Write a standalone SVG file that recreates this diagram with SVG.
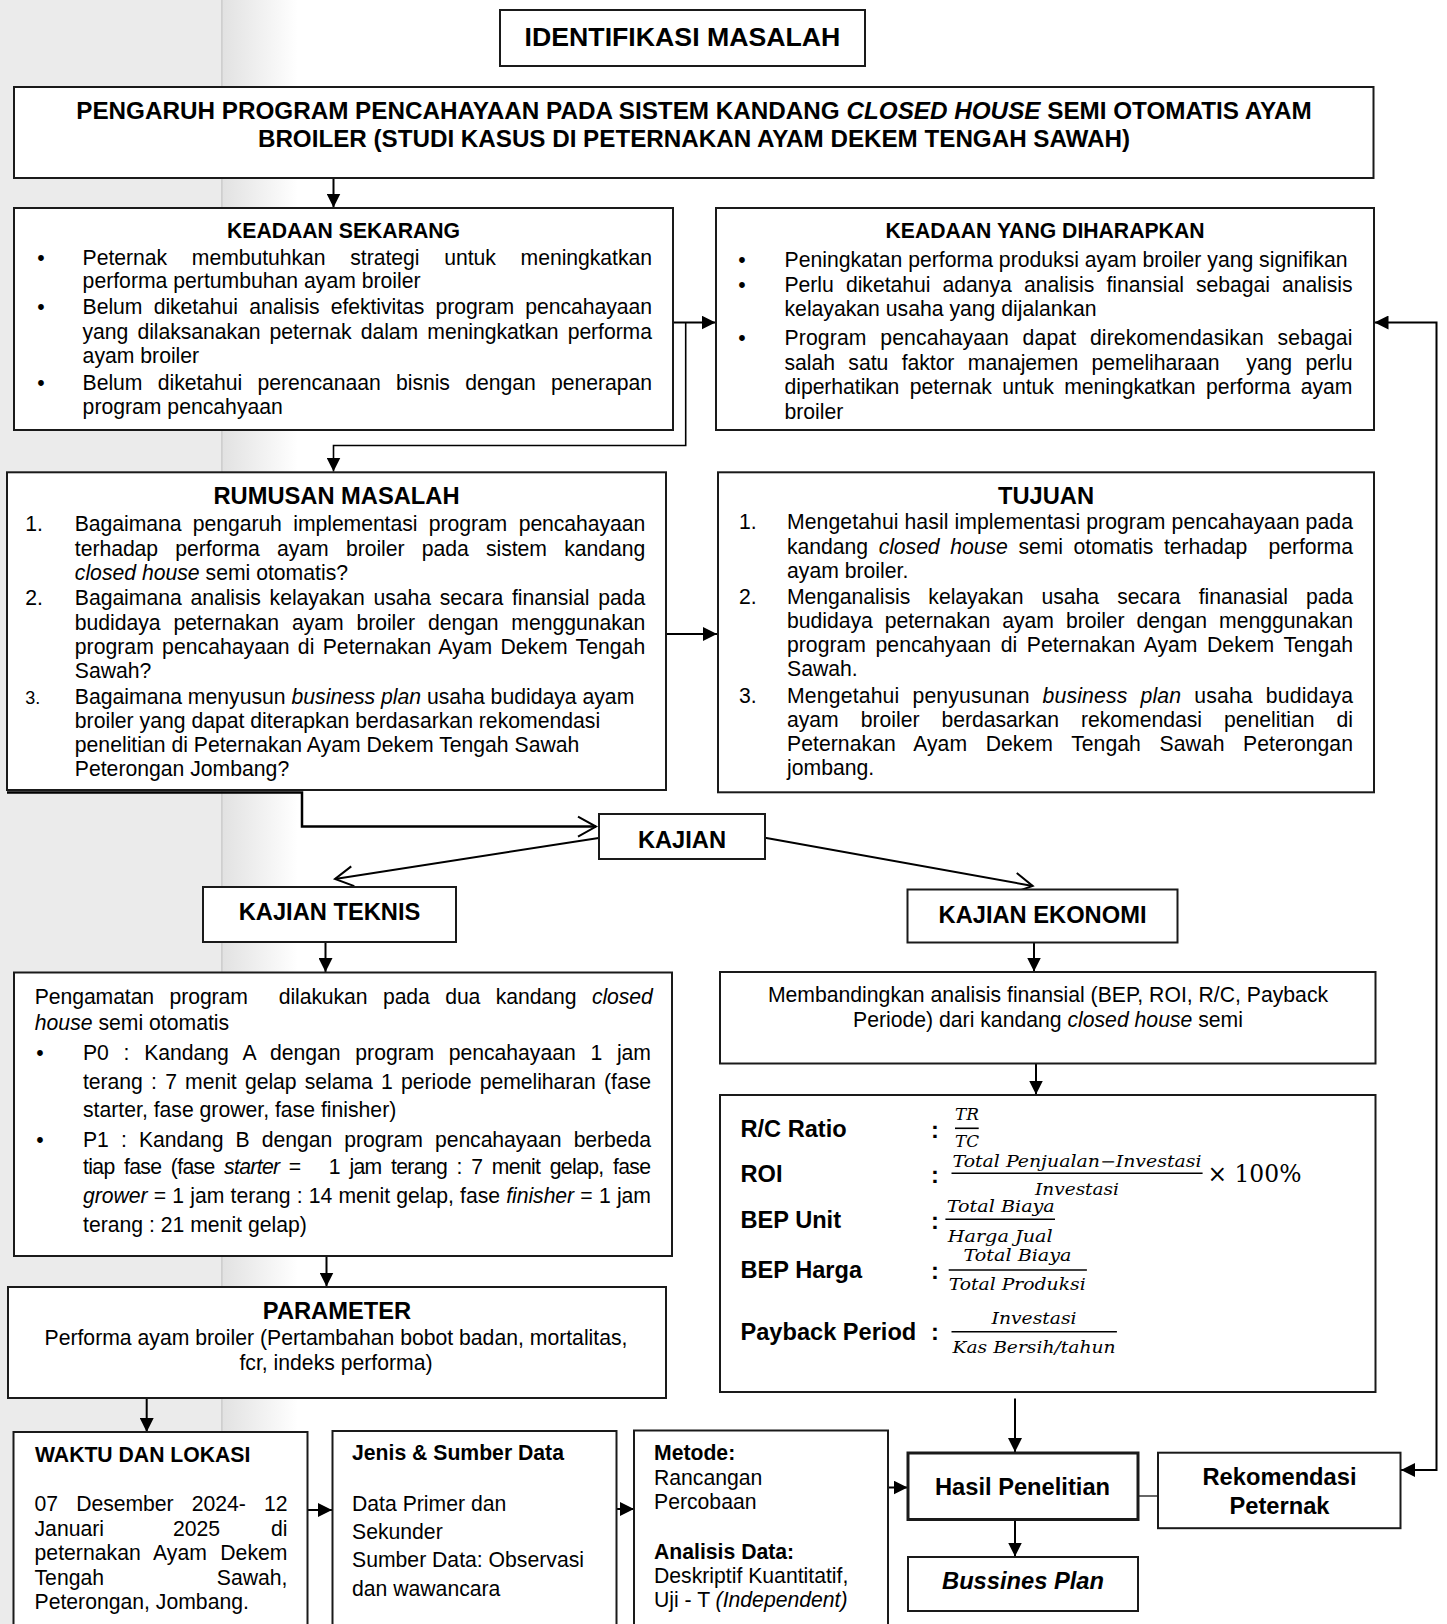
<svg xmlns="http://www.w3.org/2000/svg" width="1447" height="1624" viewBox="0 0 1447 1624">
<style>
text{font-family:"Liberation Sans",Arial,sans-serif;font-size:21.2px;fill:#000}
.box{fill:#fff;stroke:#1a1a1a;stroke-width:2}
.hb{font-weight:bold;text-anchor:middle}
.lg{font-size:23.7px}
.b{font-weight:bold}
.c{text-anchor:middle}
.e{text-anchor:end}
.i{font-style:italic}
.m{font-family:"DejaVu Serif","Liberation Serif",serif;font-style:italic;font-size:16px}
.ln{fill:none;stroke:#000;stroke-width:2}
.bar{stroke:#000;stroke-width:1.6}
</style>
<defs>
<marker id="ah" markerUnits="userSpaceOnUse" markerWidth="14" markerHeight="14" viewBox="0 0 14 14" refX="14" refY="7" orient="auto-start-reverse"><path d="M0,0 L14,7 L0,14 z" fill="#000"/></marker>
<marker id="oh" markerUnits="userSpaceOnUse" markerWidth="24" markerHeight="24" viewBox="-1 -1 24 24" refX="19" refY="11" orient="auto"><path d="M1,1 L19,11 L1,21" fill="none" stroke="#000" stroke-width="2"/></marker>
<linearGradient id="fade" x1="0" y1="0" x2="1" y2="0"><stop offset="0" stop-color="#e2e2e2"/><stop offset="1" stop-color="#ffffff"/></linearGradient>
</defs>
<g id="background">
<rect x="0" y="0" width="1447" height="1624" fill="#fff"/>
<rect x="0" y="0" width="222" height="1624" fill="#ebebeb"/>
<rect x="223" y="0" width="75" height="1624" fill="url(#fade)"/>
<line x1="222" y1="0" x2="222" y2="1624" stroke="#c6c6c6" stroke-width="1.5"/>
</g>
<g id="connectors">
<path class="ln" d="M333.5,178 V207.5" marker-end="url(#ah)"/>
<path class="ln" d="M673,322.5 H715.5" marker-end="url(#ah)"/>
<path class="ln" style="stroke-width:1.6" d="M685.7,322.5 V445.5 H333.5 V471.5" marker-end="url(#ah)"/>
<path class="ln" d="M666,634 H717" marker-end="url(#ah)"/>
<path class="ln" style="stroke-width:2.5" d="M7,792.5 H302 V826.6 H596" marker-end="url(#oh)"/>
<path class="ln" d="M598.7,838 L335,879" marker-end="url(#oh)"/>
<path class="ln" d="M765,837.7 L1032.7,886" marker-end="url(#oh)"/>
<path class="ln" d="M325.5,942 V972" marker-end="url(#ah)"/>
<path class="ln" d="M1034,942.5 V971.5" marker-end="url(#ah)"/>
<path class="ln" d="M326.5,1256 V1286.5" marker-end="url(#ah)"/>
<path class="ln" d="M1036,1063.5 V1094.5" marker-end="url(#ah)"/>
<path class="ln" d="M146.7,1398 V1432" marker-end="url(#ah)"/>
<path class="ln" d="M308,1510 H332" marker-end="url(#ah)"/>
<path class="ln" d="M617,1509 H634" marker-end="url(#ah)"/>
<path class="ln" d="M889,1487.5 H907.5" marker-end="url(#ah)"/>
<path class="ln" d="M1015,1398.5 V1452" marker-end="url(#ah)"/>
<path class="ln" d="M1015,1519.5 V1556.5" marker-end="url(#ah)"/>
<path class="ln" style="stroke-width:1.2" d="M1138,1496 H1158"/>
<path class="ln" d="M1401,1470 H1436.5 V322.5 H1374.5" marker-start="url(#ah)" marker-end="url(#ah)"/>
</g>
<g id="identifikasi">
<rect class="box" x="500" y="10" width="365" height="56"/>
<text class="hb" x="682.5" y="46" style="font-size:26.7px">IDENTIFIKASI MASALAH</text>
</g>
<g id="judul">
<rect class="box" x="14" y="87" width="1359.5" height="91"/>
<text class="hb" x="694" y="118.5" style="font-size:24.25px">PENGARUH PROGRAM PENCAHAYAAN PADA SISTEM KANDANG <tspan class="i">CLOSED HOUSE</tspan> SEMI OTOMATIS AYAM</text>
<text class="hb" x="694" y="147" style="font-size:24.2px">BROILER (STUDI KASUS DI PETERNAKAN AYAM DEKEM TENGAH SAWAH)</text>
</g>
<g id="keadaan-sekarang">
<rect class="box" x="14" y="208" width="659" height="222"/>
<text class="hb" x="343.5" y="237.5">KEADAAN SEKARANG</text>
<text class="c" x="41" y="264.5">•</text>
<text class="c" x="41" y="314">•</text>
<text class="c" x="41" y="389.5">•</text>
<text x="82.6" y="264.5" textLength="569.4" lengthAdjust="spacing" style="word-spacing:18.9px">Peternak membutuhkan strategi untuk meningkatkan</text>
<text x="82.6" y="288">performa pertumbuhan ayam broiler</text>
<text x="82.6" y="314" textLength="569.4" lengthAdjust="spacing" style="word-spacing:5.5px">Belum diketahui analisis efektivitas program pencahayaan</text>
<text x="82.6" y="339" textLength="569.4" lengthAdjust="spacing" style="word-spacing:3.4px">yang dilaksanakan peternak dalam meningkatkan performa</text>
<text x="82.6" y="363">ayam broiler</text>
<text x="82.6" y="389.5" textLength="569.4" lengthAdjust="spacing" style="word-spacing:9.5px">Belum diketahui perencanaan bisnis dengan penerapan</text>
<text x="82.6" y="414">program pencahyaan</text>
</g>
<g id="keadaan-diharapkan">
<rect class="box" x="716" y="208" width="658" height="222"/>
<text class="hb" x="1045" y="237.5">KEADAAN YANG DIHARAPKAN</text>
<text class="c" x="742" y="266.5">•</text>
<text class="c" x="742" y="292">•</text>
<text class="c" x="742" y="345">•</text>
<text x="784.5" y="266.5">Peningkatan performa produksi ayam broiler yang signifikan</text>
<text x="784.5" y="292" textLength="568" lengthAdjust="spacing" style="word-spacing:6.3px">Perlu diketahui adanya analisis finansial sebagai analisis</text>
<text x="784.5" y="316">kelayakan usaha yang dijalankan</text>
<text x="784.5" y="345" textLength="568" lengthAdjust="spacing" style="word-spacing:7.7px">Program pencahayaan dapat direkomendasikan sebagai</text>
<text x="784.5" y="370" textLength="568" lengthAdjust="spacing" style="word-spacing:7.6px" xml:space="preserve">salah satu faktor manajemen pemeliharaan  yang perlu</text>
<text x="784.5" y="394" textLength="568" lengthAdjust="spacing" style="word-spacing:4.6px">diperhatikan peternak untuk meningkatkan performa ayam</text>
<text x="784.5" y="418.5">broiler</text>
</g>
<g id="rumusan-masalah">
<rect class="box" x="7" y="472.3" width="659" height="317.7"/>
<text class="hb lg" x="336.5" y="504">RUMUSAN MASALAH</text>
<text x="25.3" y="531.3">1.</text>
<text x="25.3" y="605.1">2.</text>
<text x="25.3" y="704.1" style="font-size:18px">3.</text>
<text x="74.8" y="531.3" textLength="570.4" lengthAdjust="spacing" style="word-spacing:5.7px">Bagaimana pengaruh implementasi program pencahayaan</text>
<text x="74.8" y="556.2" textLength="570.4" lengthAdjust="spacing" style="word-spacing:11.4px">terhadap performa ayam broiler pada sistem kandang</text>
<text x="74.8" y="580.3"><tspan class="i">closed house</tspan> semi otomatis?</text>
<text x="74.8" y="605.1" textLength="570.4" lengthAdjust="spacing" style="word-spacing:3px">Bagaimana analisis kelayakan usaha secara finansial pada</text>
<text x="74.8" y="629.7" textLength="570.4" lengthAdjust="spacing" style="word-spacing:7.1px">budidaya peternakan ayam broiler dengan menggunakan</text>
<text x="74.8" y="653.7" textLength="570.4" lengthAdjust="spacing" style="word-spacing:2.4px">program pencahayaan di Peternakan Ayam Dekem Tengah</text>
<text x="74.8" y="678.2">Sawah?</text>
<text x="74.8" y="704.1">Bagaimana menyusun <tspan class="i">business plan</tspan> usaha budidaya ayam</text>
<text x="74.8" y="728.2">broiler yang dapat diterapkan berdasarkan rekomendasi</text>
<text x="74.8" y="752.3">penelitian di Peternakan Ayam Dekem Tengah Sawah</text>
<text x="74.8" y="776.2">Peterongan Jombang?</text>
</g>
<g id="tujuan">
<rect class="box" x="718" y="472.3" width="656" height="320"/>
<text class="hb lg" x="1046" y="504">TUJUAN</text>
<text x="739" y="529.3">1.</text>
<text x="739" y="603.6">2.</text>
<text x="739" y="702.6">3.</text>
<text x="787" y="529.3" textLength="566" lengthAdjust="spacing">Mengetahui hasil implementasi program pencahayaan pada</text>
<text x="787" y="554.2" textLength="566" lengthAdjust="spacing" style="word-spacing:4.8px" xml:space="preserve">kandang <tspan class="i">closed house</tspan> semi otomatis terhadap  performa</text>
<text x="787" y="578.3">ayam broiler.</text>
<text x="787" y="603.6" textLength="566" lengthAdjust="spacing" style="word-spacing:12.3px">Menganalisis kelayakan usaha secara finanasial pada</text>
<text x="787" y="627.7" textLength="566" lengthAdjust="spacing" style="word-spacing:6.2px">budidaya peternakan ayam broiler dengan menggunakan</text>
<text x="787" y="651.7" textLength="566" lengthAdjust="spacing" style="word-spacing:3.7px">program pencahyaan di Peternakan Ayam Dekem Tengah</text>
<text x="787" y="676.2">Sawah.</text>
<text x="787" y="702.6" textLength="566" lengthAdjust="spacing" style="word-spacing:6.9px">Mengetahui penyusunan <tspan class="i">business plan</tspan> usaha budidaya</text>
<text x="787" y="726.8" textLength="566" lengthAdjust="spacing" style="word-spacing:16.3px">ayam broiler berdasarkan rekomendasi penelitian di</text>
<text x="787" y="750.8" textLength="566" lengthAdjust="spacing" style="word-spacing:12.6px">Peternakan Ayam Dekem Tengah Sawah Peterongan</text>
<text x="787" y="774.5">jombang.</text>
</g>
<g id="kajian">
<rect class="box" x="599" y="814" width="166" height="45"/>
<text class="hb lg" x="682" y="847.5">KAJIAN</text>
</g>
<g id="kajian-teknis">
<rect class="box" x="203" y="887" width="253" height="55"/>
<text class="hb lg" x="329.5" y="920">KAJIAN TEKNIS</text>
</g>
<g id="kajian-ekonomi">
<rect class="box" x="907.5" y="889.5" width="270" height="53"/>
<text class="hb lg" x="1042.5" y="923">KAJIAN EKONOMI</text>
</g>
<g id="pengamatan">
<rect class="box" x="14" y="972.5" width="658" height="283.5"/>
<text x="34.8" y="1003.5" textLength="617.9" lengthAdjust="spacing" style="word-spacing:9.7px" xml:space="preserve">Pengamatan program  dilakukan pada dua kandang <tspan class="i">closed</tspan></text>
<text x="34.8" y="1029.7"><tspan class="i">house</tspan> semi otomatis</text>
<text class="c" x="40" y="1060.3">•</text>
<text class="c" x="40" y="1146.5">•</text>
<text x="83" y="1060.3" textLength="568" lengthAdjust="spacing" style="word-spacing:8.9px">P0 : Kandang A dengan program pencahayaan 1 jam</text>
<text x="83" y="1088.8" textLength="568" lengthAdjust="spacing" style="word-spacing:2.4px">terang : 7 menit gelap selama 1 periode pemeliharan (fase</text>
<text x="83" y="1116.8">starter, fase grower, fase finisher)</text>
<text x="83" y="1146.5" textLength="568" lengthAdjust="spacing" style="word-spacing:6.4px">P1 : Kandang B dengan program pencahayaan berbeda</text>
<text x="83" y="1173.8" textLength="568" lengthAdjust="spacing" style="word-spacing:4.2px" xml:space="preserve">tiap fase (fase <tspan class="i">starter</tspan> =   1 jam terang : 7 menit gelap, fase</text>
<text x="83" y="1202.7" textLength="568" lengthAdjust="spacing" style="word-spacing:0.4px"><tspan class="i">grower</tspan> = 1 jam terang : 14 menit gelap, fase <tspan class="i">finisher</tspan> = 1 jam</text>
<text x="83" y="1231.5">terang : 21 menit gelap)</text>
</g>
<g id="parameter">
<rect class="box" x="8" y="1287" width="658" height="111"/>
<text class="hb lg" x="337" y="1318.5">PARAMETER</text>
<text class="c" x="336" y="1345">Performa ayam broiler (Pertambahan bobot badan, mortalitas,</text>
<text class="c" x="336" y="1370">fcr, indeks performa)</text>
</g>
<g id="membandingkan">
<rect class="box" x="720" y="972" width="655.5" height="91.5"/>
<text class="c" x="1048" y="1001.5">Membandingkan analisis finansial (BEP, ROI, R/C, Payback</text>
<text class="c" x="1048" y="1026.5">Periode) dari kandang <tspan class="i">closed house</tspan> semi</text>
</g>
<g id="rumus">
<rect class="box" x="720" y="1095" width="655.5" height="297"/>
<text class="b" x="740.5" y="1136.5" style="font-size:23.6px">R/C Ratio</text>
<text class="b" x="740.5" y="1181.7" style="font-size:23.6px">ROI</text>
<text class="b" x="740.5" y="1228" style="font-size:23.6px">BEP Unit</text>
<text class="b" x="740.5" y="1277.5" style="font-size:23.6px">BEP Harga</text>
<text class="b" x="740.5" y="1339.5" style="font-size:23.6px">Payback Period</text>
<text class="hb" x="935" y="1138" style="font-size:23.6px">:</text>
<text class="hb" x="935" y="1183" style="font-size:23.6px">:</text>
<text class="hb" x="935" y="1229" style="font-size:23.6px">:</text>
<text class="hb" x="935" y="1278.5" style="font-size:23.6px">:</text>
<text class="hb" x="935" y="1340" style="font-size:23.6px">:</text>
<text class="m" x="955" y="1120" textLength="24" lengthAdjust="spacingAndGlyphs">TR</text>
<line class="bar" x1="955" y1="1128.3" x2="978.7" y2="1128.3"/>
<text class="m" x="955" y="1147" textLength="24" lengthAdjust="spacingAndGlyphs">TC</text>
<text class="m" x="952.5" y="1167" textLength="249" lengthAdjust="spacingAndGlyphs">Total Penjualan−Investasi</text>
<line class="bar" x1="951.5" y1="1173.3" x2="1202.6" y2="1173.3"/>
<text class="m" x="1035" y="1195" textLength="84" lengthAdjust="spacingAndGlyphs">Investasi</text>
<text x="1207.4" y="1182" textLength="94" lengthAdjust="spacingAndGlyphs" style="font-family:'DejaVu Serif','Liberation Serif',serif;font-size:24px">× 100%</text>
<text class="m" x="946.8" y="1212.3" textLength="108" lengthAdjust="spacingAndGlyphs">Total Biaya</text>
<line class="bar" x1="945.4" y1="1219.3" x2="1055" y2="1219.3"/>
<text class="m" x="947.7" y="1241.7" textLength="105" lengthAdjust="spacingAndGlyphs">Harga Jual</text>
<text class="m" x="963.5" y="1261" textLength="108" lengthAdjust="spacingAndGlyphs">Total Biaya</text>
<line class="bar" x1="948.7" y1="1270" x2="1086.9" y2="1270"/>
<text class="m" x="948.7" y="1290" textLength="137" lengthAdjust="spacingAndGlyphs">Total Produksi</text>
<text class="m" x="991.6" y="1324.3" textLength="85" lengthAdjust="spacingAndGlyphs">Investasi</text>
<line class="bar" x1="951.5" y1="1331.7" x2="1116.9" y2="1331.7"/>
<text class="m" x="952.5" y="1352.7" textLength="163" lengthAdjust="spacingAndGlyphs">Kas Bersih/tahun</text>
</g>
<g id="waktu-lokasi">
<rect class="box" x="13.5" y="1432" width="294" height="200"/>
<text class="b" x="35" y="1461.5">WAKTU DAN LOKASI</text>
<text x="34.5" y="1511" textLength="253" lengthAdjust="spacing" style="word-spacing:12.4px">07 Desember 2024- 12</text>
<text x="34.5" y="1535.5">Januari</text>
<text x="173" y="1535.5">2025</text>
<text class="e" x="287.5" y="1535.5">di</text>
<text x="34.5" y="1560" textLength="253" lengthAdjust="spacing" style="word-spacing:7.5px">peternakan Ayam Dekem</text>
<text x="34.5" y="1584.5">Tengah</text>
<text class="e" x="287.5" y="1584.5">Sawah,</text>
<text x="34.5" y="1609">Peterongan, Jombang.</text>
</g>
<g id="jenis-sumber-data">
<rect class="box" x="332.5" y="1431" width="284" height="200"/>
<text class="b" x="352" y="1460">Jenis &amp; Sumber Data</text>
<text x="352" y="1510.5">Data Primer dan</text>
<text x="352" y="1538.5">Sekunder</text>
<text x="352" y="1567">Sumber Data: Observasi</text>
<text x="352" y="1595.5">dan wawancara</text>
</g>
<g id="metode">
<rect class="box" x="634" y="1430.5" width="254" height="200"/>
<text class="b" x="654" y="1460">Metode:</text>
<text x="654" y="1484.5">Rancangan</text>
<text x="654" y="1508.5">Percobaan</text>
<text class="b" x="654" y="1559">Analisis Data:</text>
<text x="654" y="1583">Deskriptif Kuantitatif,</text>
<text x="654" y="1607">Uji - T <tspan class="i">(Independent)</tspan></text>
</g>
<g id="hasil-penelitian">
<rect class="box" x="908" y="1453" width="230" height="66.5" style="stroke-width:3"/>
<text class="hb lg" x="1022.5" y="1494.5">Hasil Penelitian</text>
</g>
<g id="bussines-plan">
<rect class="box" x="908" y="1557" width="230" height="54"/>
<text class="hb lg i" x="1023" y="1589">Bussines Plan</text>
</g>
<g id="rekomendasi">
<rect class="box" x="1158" y="1452.7" width="242.5" height="75.5"/>
<text class="hb lg" x="1279.5" y="1484.5">Rekomendasi</text>
<text class="hb lg" x="1279.5" y="1513.5">Peternak</text>
</g>
</svg>
